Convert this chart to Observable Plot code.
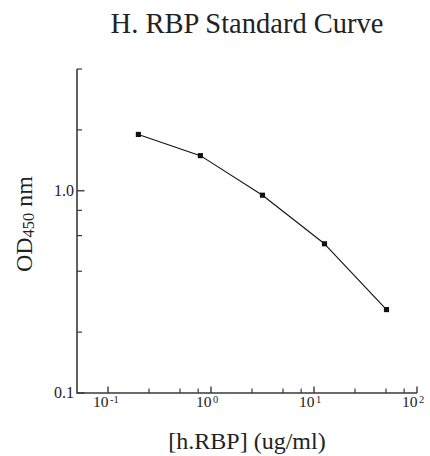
<!DOCTYPE html>
<html>
<head>
<meta charset="utf-8">
<script src="https://cdn.jsdelivr.net/npm/d3@7"></script>
<script src="https://cdn.jsdelivr.net/npm/@observablehq/plot@0.6"></script>
<style>
  html, body { margin: 0; padding: 0; background: #fff; }
  svg { display: block; }
  svg text, svg tspan { font-family: "Liberation Serif", "Times New Roman", serif !important; }
</style>
</head>
<body>
<div id="chart"></div>
<script>
// ---- data ----
const concentrations = [0.195, 0.78, 3.125, 12.5, 50];   // ug/ml
const odValues = [1.91, 1.50, 0.956, 0.55, 0.26];       // OD450

const xMajorTicks = [0.1, 1, 10, 100];
const xTickExponents = ["-1", "0", "1", "2"];
const xMinorTicks = [0.25, 0.5, 0.75, 2.5, 5, 7.5, 25, 50, 75];
const yLabeledTicks = [0.1, 1];
const yTickLabels = ["0.1", "1.0"];
const yMinorTicks = [0.2, 0.4, 0.6, 0.8, 2, 4];

const titleText = "H. RBP Standard Curve";
const xTitle = "[h.RBP] (ug/ml)";

const FONT = "'Liberation Serif', 'Times New Roman', serif";
const AXIS = "#3a3a3a";
const TEXT = "#222";

const points = concentrations.map((c, i) => ({c, od: odValues[i]}));

function frameAndText(index, scales, values, dims) {
  const x = scales.x, y = scales.y;
  const left = dims.marginLeft;
  const right = dims.width - dims.marginRight;
  const top = dims.marginTop;
  const bottom = dims.height - dims.marginBottom;
  const g = d3.create("svg:g").style("font-family", FONT);

  // axis lines
  g.append("path")
    .attr("d", `M${left},${y(4)}V${bottom}H${x(100)}`)
    .attr("fill", "none").attr("stroke", AXIS).attr("stroke-width", 1.6);

  // x ticks (inward / upward)
  for (const v of xMajorTicks) {
    g.append("line").attr("x1", x(v)).attr("x2", x(v)).attr("y1", bottom).attr("y2", bottom - 6.5)
      .attr("stroke", AXIS).attr("stroke-width", 1.4);
  }
  for (const v of xMinorTicks) {
    g.append("line").attr("x1", x(v)).attr("x2", x(v)).attr("y1", bottom).attr("y2", bottom - 4.5)
      .attr("stroke", AXIS).attr("stroke-width", 1.2);
  }
  // y ticks (inward / right)
  for (const v of yLabeledTicks) {
    g.append("line").attr("x1", left).attr("x2", left + 7.5).attr("y1", y(v)).attr("y2", y(v))
      .attr("stroke", AXIS).attr("stroke-width", 1.4);
  }
  for (const v of yMinorTicks) {
    g.append("line").attr("x1", left).attr("x2", left + 5).attr("y1", y(v)).attr("y2", y(v))
      .attr("stroke", AXIS).attr("stroke-width", 1.2);
  }

  // x tick labels: 10^n  ("10" ends at the tick, exponent just after it)
  xMajorTicks.forEach((v, i) => {
    g.append("text").attr("fill", TEXT).style("font-size", "15.5px")
      .attr("x", x(v) + 0.5).attr("y", bottom + 14).attr("text-anchor", "end").text("10");
    g.append("text").attr("fill", TEXT).style("font-size", "10.5px")
      .attr("x", x(v) + 2).attr("y", bottom + 9.5).attr("text-anchor", "start").text(xTickExponents[i]);
  });

  // y tick labels
  yLabeledTicks.forEach((v, i) => {
    g.append("text").attr("fill", TEXT).style("font-size", "16px")
      .attr("x", left - 3).attr("y", y(v)).attr("dy", "0.33em")
      .attr("text-anchor", "end").text(yTickLabels[i]);
  });

  // title
  g.append("text").attr("fill", TEXT).style("font-size", "28.5px")
    .attr("x", (left + right) / 2).attr("y", 33).attr("text-anchor", "middle").text(titleText);

  // x axis title
  g.append("text").attr("fill", TEXT).style("font-size", "24px")
    .attr("x", (left + right) / 2).attr("y", bottom + 56).attr("text-anchor", "middle").text(xTitle);

  // y axis title with subscript
  const yt = g.append("text").attr("fill", TEXT).style("font-size", "24px")
    .attr("text-anchor", "middle")
    .attr("transform", `translate(31.5,${(top + bottom) / 2 - 7}) rotate(-90)`);
  yt.append("tspan").text("OD");
  yt.append("tspan").style("font-size", "16.5px").attr("dy", 2.5).text("450");
  yt.append("tspan").attr("dy", -2.5).text(" nm");

  return g.node();
}

const chart = Plot.plot({
  width: 430,
  height: 456,
  marginLeft: 77,
  marginRight: 13,
  marginTop: 69,
  marginBottom: 63,
  style: {background: "#fff", fontFamily: FONT},
  x: {type: "log", domain: [0.05, 100], axis: null},
  y: {type: "log", domain: [0.1, 4], axis: null},
  marks: [
    frameAndText,
    Plot.line(points, {x: "c", y: "od", stroke: "#111", strokeWidth: 1.1}),
    Plot.dot(points, {x: "c", y: "od", symbol: "square", r: 2.9, fill: "#111", stroke: "none"})
  ]
});
document.getElementById("chart").appendChild(chart);
</script>
</body>
</html>
